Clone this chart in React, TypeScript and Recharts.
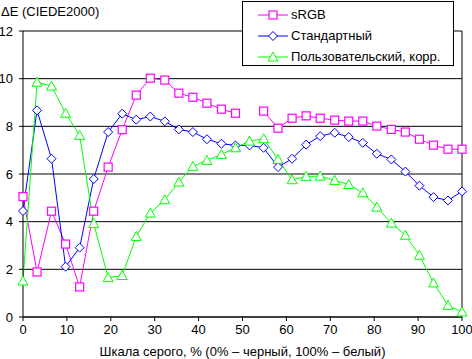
import { LineChart, Line, XAxis, YAxis, CartesianGrid, Legend, ReferenceLine } from 'recharts';

const grayLevels = [0, 3.2, 6.5, 9.7, 12.9, 16.1, 19.4, 22.6, 25.8, 29, 32.3, 35.5, 38.7, 41.9, 45.2, 48.4, 51.6, 54.8, 58.1, 61.3, 64.5, 67.7, 71, 74.2, 77.4, 80.6, 83.9, 87.1, 90.3, 93.5, 96.8, 100];

const srgb = [5.05, 1.89, 4.44, 3.06, 1.26, 4.44, 6.29, 7.86, 9.31, 10.02, 9.94, 9.39, 9.22, 8.97, 8.72, 8.55, null, 8.64, 7.92, 8.34, 8.44, 8.34, 8.26, 8.22, 8.22, 8.01, 7.87, 7.76, 7.46, 7.21, 7.04, 7.04];
const standard = [4.45, 8.67, 6.64, 2.11, 2.91, 5.79, 7.76, 8.53, 8.28, 8.41, 8.21, 7.87, 7.76, 7.46, 7.27, 7.2, 7.2, 7.1, 6.29, 6.64, 7.23, 7.59, 7.73, 7.55, 7.31, 6.85, 6.61, 6.1, 5.51, 5.03, 4.89, 5.27];
const custom = [1.51, 9.85, 9.69, 8.55, 7.62, 3.92, 1.65, 1.74, 3.38, 4.36, 4.92, 5.66, 6.32, 6.57, 6.82, 7.1, 7.38, 7.48, 6.61, 5.76, 5.9, 5.91, 5.73, 5.56, 5.21, 4.61, 3.94, 3.43, 2.59, 1.43, 0.49, 0.21];

const xTicks = [0, 10, 20, 30, 40, 50, 60, 70, 80, 90, 100];
const yTicks = [0, 2, 4, 6, 8, 10, 12];

const data = grayLevels.map((x, i) => ({ x, srgb: srgb[i], standard: standard[i], custom: custom[i] }));

const FONT = '"Liberation Sans", Arial, sans-serif';

function marker(kind: string, cx: number, cy: number, color: string, key?: any) {
  if (kind === 'square') {
    return <rect key={key} x={cx - 4} y={cy - 4} width={8} height={8} fill="#fff" stroke={color} strokeWidth={1.2} />;
  }
  if (kind === 'diamond') {
    return <polygon key={key} points={`${cx},${cy - 4.5} ${cx + 4.5},${cy} ${cx},${cy + 4.5} ${cx - 4.5},${cy}`} fill="#fff" stroke={color} strokeWidth={1} />;
  }
  return <polygon key={key} points={`${cx},${cy - 5} ${cx + 5},${cy + 4} ${cx - 5},${cy + 4}`} fill="#fff" stroke={color} strokeWidth={1} />;
}

const dotFor = (kind: string, color: string) => (props: any) => {
  const { cx, cy, index, value } = props;
  if (cx == null || cy == null || value == null) return <g key={`e-${kind}-${index}`} />;
  return marker(kind, cx, cy, color, `${kind}-${index}`);
};

const series = [
  { key: 'srgb', name: 'sRGB', color: '#ff00ff', kind: 'square' },
  { key: 'standard', name: 'Стандартный', color: '#0000ff', kind: 'diamond' },
  { key: 'custom', name: 'Пользовательский, корр.', color: '#00ff00', kind: 'triangle' },
];

function LegendBox() {
  return (
    <div style={{ border: '1px solid #000', background: '#fff', height: 65, boxSizing: 'border-box', paddingTop: 2, fontFamily: FONT, fontSize: 13 }}>
      {series.map((s) => (
        <div key={s.key} style={{ display: 'flex', alignItems: 'center', height: 21, paddingLeft: 15 }}>
          <svg width={30} height={12} style={{ display: 'block' }}>
            <line x1={0} y1={6} x2={30} y2={6} stroke={s.color} strokeWidth={1} />
            {marker(s.kind, 15, 6, s.color)}
          </svg>
          <span style={{ marginLeft: 3, color: '#000' }}>{s.name}</span>
        </div>
      ))}
    </div>
  );
}

export default function App() {
  return (
    <div style={{ position: 'absolute', left: 0, top: 0, width: 472, height: 359, background: '#fff', fontFamily: FONT }}>
      <div style={{ position: 'absolute', left: 1, top: 4, fontSize: 13, lineHeight: '16px', color: '#000' }}>ΔE (CIEDE2000)</div>
      <LineChart width={472} height={359} data={data} margin={{ top: 31, right: 10, left: 0, bottom: 0 }}>
        <CartesianGrid vertical={false} stroke="#000" strokeWidth={1} />
        <XAxis
          dataKey="x"
          type="number"
          domain={[0, 100]}
          ticks={xTicks}
          height={42}
          stroke="#000"
          tickSize={4}
          tickMargin={4}
          tick={{ fill: '#000', fontSize: 13, fontFamily: FONT }}
          label={{ value: 'Шкала серого, % (0% – черный, 100% – белый)', position: 'insideBottom', offset: 3, fill: '#000', fontSize: 13, fontFamily: FONT }}
        />
        <YAxis
          type="number"
          domain={[0, 12]}
          ticks={yTicks}
          width={23}
          stroke="#000"
          tickSize={4}
          tickMargin={6}
          tick={{ fill: '#000', fontSize: 13, fontFamily: FONT }}
        />
        <ReferenceLine x={100} stroke="#000" strokeWidth={1} />
        {series.map((s) => (
          <Line
            key={s.key}
            dataKey={s.key}
            name={s.name}
            type="linear"
            stroke={s.color}
            strokeWidth={1}
            dot={dotFor(s.kind, s.color)}
            activeDot={false}
            connectNulls={false}
            isAnimationActive={false}
          />
        ))}
        <Legend
          layout="vertical"
          align="center"
          verticalAlign="middle"
          content={() => <LegendBox />}
          wrapperStyle={{ left: 242, top: 1, width: 212, height: 65 }}
        />
      </LineChart>
    </div>
  );
}
